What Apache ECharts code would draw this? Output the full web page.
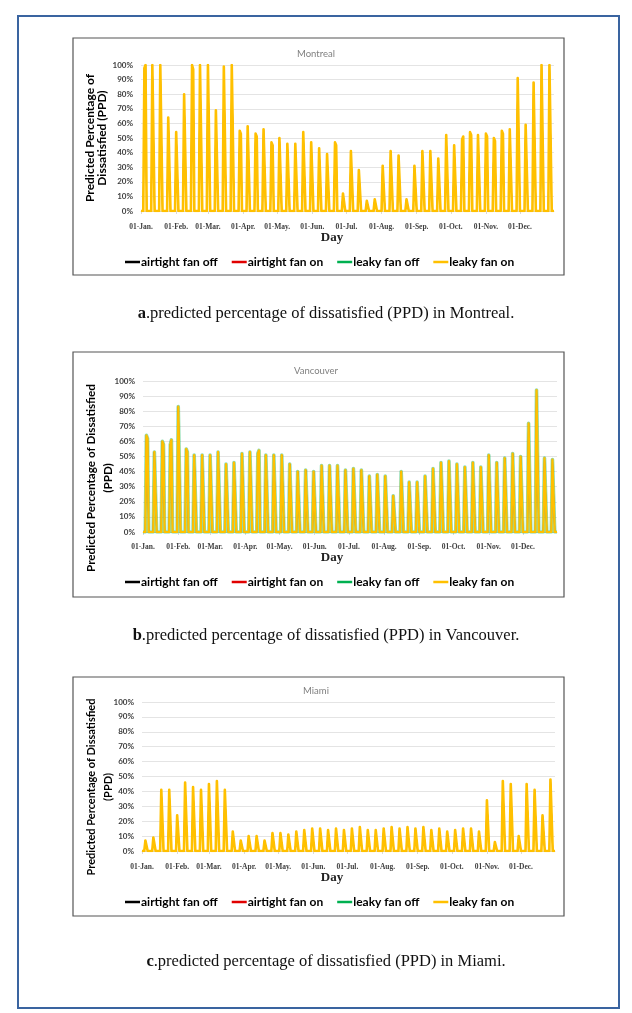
<!DOCTYPE html>
<html>
<head>
<meta charset="utf-8">
<script src="https://cdn.jsdelivr.net/npm/echarts@6/dist/echarts.min.js"></script>
<style>
html,body{margin:0;padding:0;background:#fff;}
#main{width:632px;height:1013px;}
</style>
</head>
<body>
<div id="main"></div>
<script>
// ---------- data ----------
const monthStarts = [0,31,59,90,120,151,181,212,243,273,304,334];
const monthLabels = ['01-Jan.','01-Feb.','01-Mar.','01-Apr.','01-May.','01-Jun.','01-Jul.','01-Aug.','01-Sep.','01-Oct.','01-Nov.','01-Dec.'];
const seriesNames = ['airtight fan off','airtight fan on','leaky fan off','leaky fan on'];
const cities = ['Montreal','Vancouver','Miami'];
const yTicks = [0,10,20,30,40,50,60,70,80,90,100];

// weekly PPD peaks (%), first and second day of each weekly occupied period
const montrealDay1 = [98,100,100,64,54,80,100,100,100,69,99,100,55,58,53,56,47,50,46,46,54,47,43,39,47,12,41,28,7,8,31,41,38,8,31,41,41,36,52,45,49,54,52,53,50,55,56,91,59,88,100,100];
const montrealDay2 = [100,100,100,65,55,80,97,100,100,68,98,100,53,58,51,55,45,49,46,47,53,46,44,39,45,12,40,28,7,8,31,40,38,7,31,41,42,36,51,46,51,52,52,51,48,53,57,91,60,89,100,100];
const vancouverDay1 = [64,53,60,58,83,55,51,51,51,53,45,46,52,53,52,51,51,51,45,40,41,40,44,44,44,41,42,41,37,38,37,24,40,33,33,37,42,46,47,45,43,46,43,51,46,49,52,50,72,94,49,48];
const vancouverDay2 = [62,54,58,61,84,53,51,52,51,52,44,47,52,52,54,51,50,51,44,40,42,39,44,45,43,41,41,42,36,38,36,23,41,33,32,37,41,46,47,44,42,46,43,52,47,49,51,49,73,95,48,49];
const miamiDay1 = [7,9,41,41,24,46,43,41,45,47,41,13,7,10,10,7,12,12,11,13,14,15,15,14,15,14,15,16,14,14,15,16,15,16,15,16,14,15,13,14,15,15,13,34,6,47,45,10,45,41,24,48];
const miamiDay2 = [8,10,40,41,23,47,44,40,46,48,40,13,8,10,9,7,12,11,12,13,15,15,15,14,15,14,15,16,14,15,15,17,15,16,14,15,15,15,13,14,14,15,13,34,5,46,44,10,44,40,24,48];
const firstOccupiedDay = 3;   // day index of first weekly peak
const daysPerWeek = 7;
const lastDay = 364;

function buildSeries(d1, d2) {
  const pts = [[0, 0]];
  for (let k = 0; k < d1.length; k++) {
    const a = firstOccupiedDay + daysPerWeek * k;
    pts.push([a - 1, 0], [a, d1[k]], [a + 1, d2[k]], [a + 2, 0]);
  }
  pts.push([lastDay, 0]);
  return pts;
}
const cityData = [
  buildSeries(montrealDay1, montrealDay2),
  buildSeries(vancouverDay1, vancouverDay2),
  buildSeries(miamiDay1, miamiDay2)
];
const captions = [
  ['a', '.predicted percentage of dissatisfied (PPD) in Montreal.'],
  ['b', '.predicted percentage of dissatisfied (PPD) in Vancouver.'],
  ['c', '.predicted percentage of dissatisfied (PPD) in Miami.']
];
const yNames = ['Predicted Percentage of\nDissatisfied (PPD)', 'Predicted Percentage of Dissatisfied\n(PPD)', 'Predicted Percentage of Dissatisfied\n(PPD)'];

// ---------- layout / styles ----------
const colors = ['#000000', '#e00000', '#00b050', '#ffc000'];
const layout = [
  {box:[73,38,491,237], grid:{left:141,top:65,width:413,height:146}, titleY:44, dayY:238, legendY:256, capY:310, yName:{x:96,y:138,lh:12,fs:12}, xMargin:12},
  {box:[73,352,491,245], grid:{left:143,top:381,width:414,height:151}, titleY:361, dayY:558, legendY:576, capY:632, yName:{x:100,y:478,lh:17,fs:11.7}, xMargin:11},
  {box:[73,677,491,239], grid:{left:142,top:702,width:413,height:149}, titleY:681, dayY:878, legendY:896, capY:958, yName:{x:100,y:787,lh:17,fs:11}, xMargin:12}
];
</script>
<script>
const lw = [[1,1,1,2.6],[1,1,3.6,2.2],[1,1,1,2.6]];
const op = [[1,1,1,1],[1,1,0.45,1],[1,1,1,1]];
const grids = [], xAxes = [], yAxes = [], series = [], titles = [], legends = [], graphics = [];
graphics.push({type:'rect', shape:{x:18,y:16,width:601,height:992}, style:{fill:'none', stroke:'#3a64a0', lineWidth:2}, z:0});
layout.forEach((L, i) => {
  grids.push(L.grid);
  xAxes.push({
    type:'value', gridIndex:i, min:0, max:lastDay,
    axisLine:{lineStyle:{color:'#d9d9d9', width:1}},
    axisTick:{show:true, customValues:monthStarts, length:3, lineStyle:{color:'#d9d9d9'}},
    splitLine:{show:false},
    axisLabel:{customValues:monthStarts, margin:L.xMargin, fontFamily:'Liberation Serif', fontWeight:'bold', fontSize:7.5, color:'#404040',
      formatter:(v)=>{const j = monthStarts.indexOf(Math.round(v)); return j>=0?monthLabels[j]:'';}}
  });
  yAxes.push({
    type:'value', gridIndex:i, min:0, max:100, interval:10,
    axisLine:{show:false}, axisTick:{show:false},
    splitLine:{lineStyle:{color:'#e4e4e4', width:1}},
    axisLabel:{formatter:'{value}%', margin:8, fontFamily:'Lato', fontWeight:'bold', fontSize:8, color:'#404040'}
  });
  seriesNames.forEach((n, s) => {
    series.push({
      name:n, type:'line', xAxisIndex:i, yAxisIndex:i, data:cityData[i],
      showSymbol:false, symbol:'none', smooth:false,
      lineStyle:{color:colors[s], width:lw[i][s], opacity:op[i][s], join:'round'},
      itemStyle:{color:colors[s]}, z:2+s
    });
  });
  titles.push({text:cities[i], left:'center', top:L.titleY, textStyle:{fontFamily:'Lato', fontWeight:'normal', fontSize:9.5, color:'#808080'}});
  titles.push({text:'{b|'+captions[i][0]+'}'+captions[i][1], left:321, textAlign:'center', top:L.capY-10,
    textStyle:{fontFamily:'Liberation Serif', fontWeight:'normal', fontSize:16.5, color:'#111',
      rich:{b:{fontFamily:'Liberation Serif', fontWeight:'bold', fontSize:16.5, color:'#111'}}}});
  legends.push({
    data:seriesNames, left:125, top:L.legendY, orient:'horizontal', padding:0,
    icon:'rect', itemWidth:15, itemHeight:2.5, itemGap:14,
    textStyle:{fontFamily:'Lato', fontWeight:'bold', fontSize:12, color:'#000', padding:[0,0,0,-4]},
    selectedMode:false
  });
  graphics.push({type:'rect', shape:{x:L.box[0], y:L.box[1], width:L.box[2], height:L.box[3]}, style:{fill:'none', stroke:'#555', lineWidth:1.2}, z:0});
  graphics.push({type:'text', x:332, y:L.dayY, style:{text:'Day', font:'bold 13px "Liberation Serif"', fill:'#222', align:'center', verticalAlign:'middle'}});
  graphics.push({type:'text', x:L.yName.x, y:L.yName.y, rotation:Math.PI/2,
    style:{text:yNames[i], fontFamily:'Lato', fontWeight:'bold', fontSize:L.yName.fs, lineHeight:L.yName.lh, fill:'#000', align:'center', verticalAlign:'middle'}});
});

const chart = echarts.init(document.getElementById('main'));
chart.setOption({
  animation:false,
  backgroundColor:'#fff',
  title:titles, legend:legends, grid:grids, xAxis:xAxes, yAxis:yAxes, series:series,
  graphic:{elements:graphics}
});
</script>
</body>
</html>
